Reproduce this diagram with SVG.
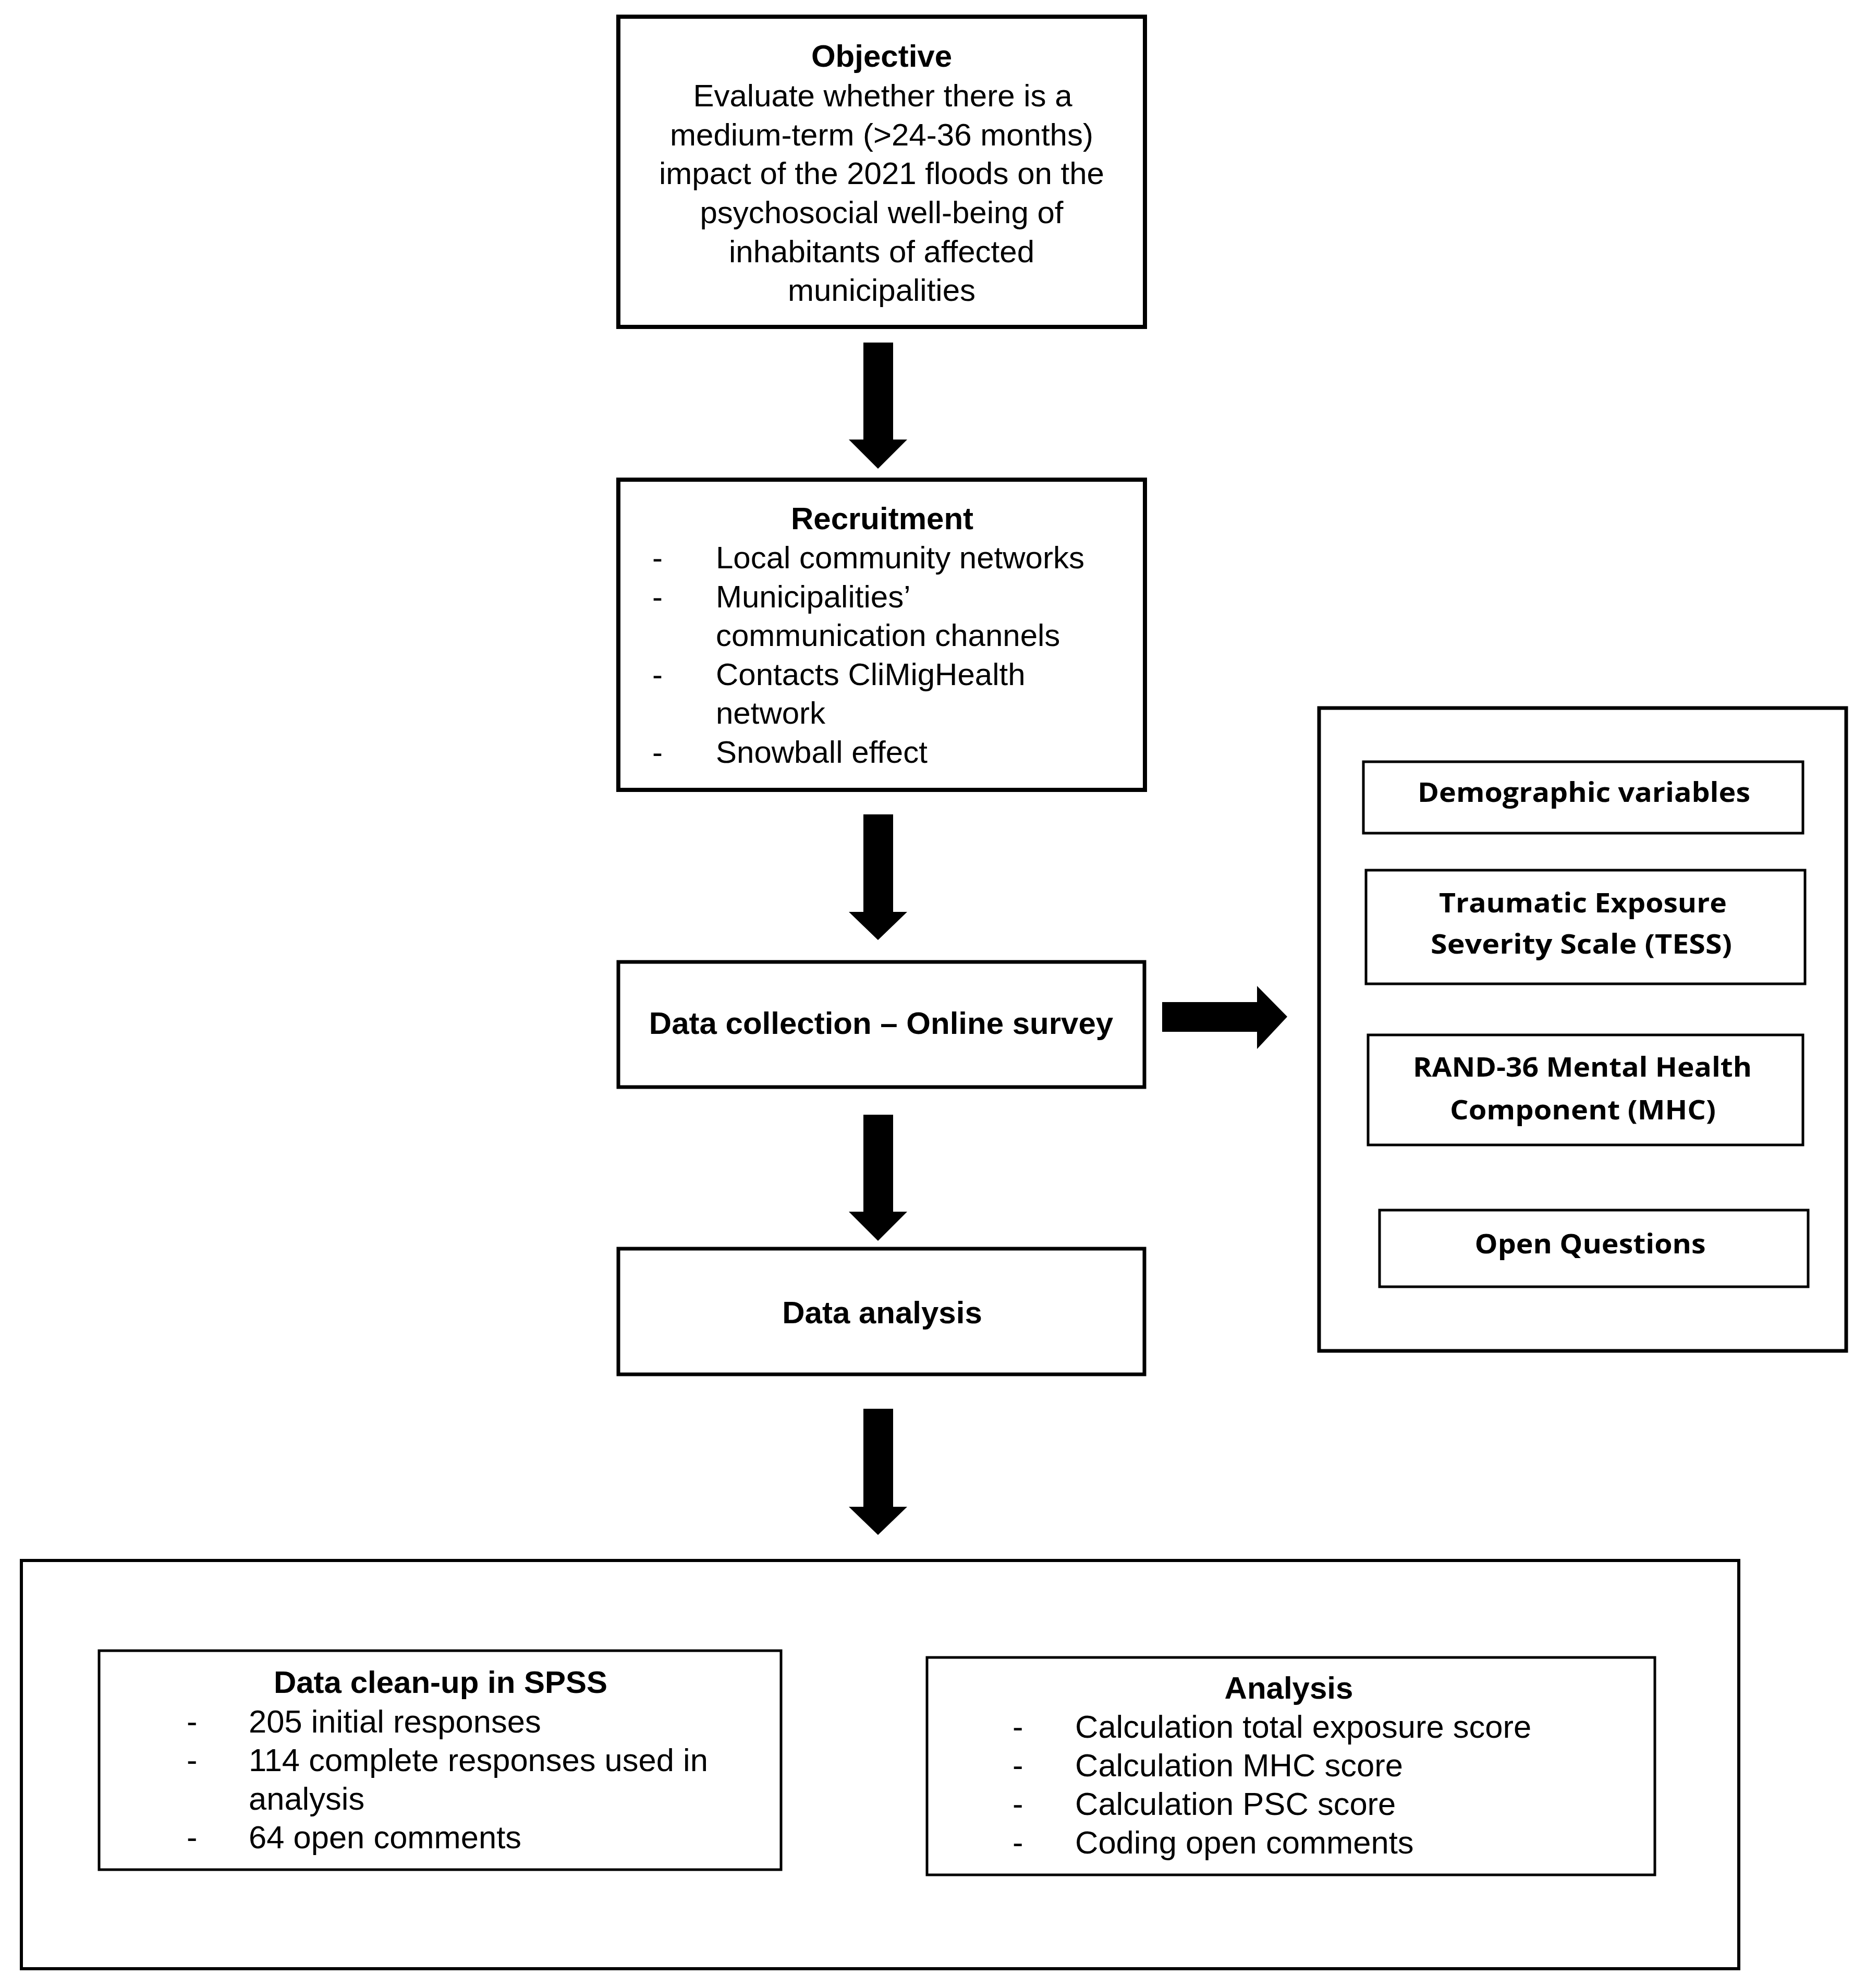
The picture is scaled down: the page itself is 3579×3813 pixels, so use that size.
<svg xmlns="http://www.w3.org/2000/svg" width="3579" height="3813" viewBox="0 0 3579 3813">
<style>
.box{fill:#fff;stroke:#000}
.b8{stroke-width:8}
.b7{stroke-width:7}
.b6{stroke-width:6}
.b5{stroke-width:5}
text{font-family:"Liberation Sans",Arial,sans-serif;font-size:60px;fill:#000}
.bold{font-weight:700}
.c{text-anchor:middle}
.s{font-size:61.5px}
.r{font-family:"Open Sans","Liberation Sans",sans-serif;font-weight:700;font-size:52px;text-anchor:middle}
.arrow{fill:#000}
</style>
<rect width="3579" height="3813" fill="#fff"/>

<g id="objective">
<rect class="box b8" x="1186" y="32" width="1010" height="595"/>
<text class="bold c" x="1691" y="128">Objective</text>
<text class="c" x="1693" y="204">Evaluate whether there is a</text>
<text class="c" x="1691" y="279">medium-term (&gt;24-36 months)</text>
<text class="c" x="1691" y="353">impact of the 2021 floods on the</text>
<text class="c" x="1691" y="428">psychosocial well-being of</text>
<text class="c" x="1691" y="503">inhabitants of affected</text>
<text class="c" x="1691" y="577">municipalities</text>
</g>

<g id="recruitment">
<rect class="box b8" x="1186" y="920" width="1010" height="595"/>
<text class="bold c" x="1692" y="1015">Recruitment</text>
<text x="1251" y="1090">-</text><text x="1373" y="1090">Local community networks</text>
<text x="1251" y="1165">-</text><text x="1373" y="1165">Municipalities’</text>
<text x="1373" y="1239">communication channels</text>
<text x="1251" y="1314">-</text><text x="1373" y="1314">Contacts CliMigHealth</text>
<text x="1373" y="1388">network</text>
<text x="1251" y="1463">-</text><text x="1373" y="1463">Snowball effect</text>
</g>

<g id="data-collection">
<rect class="box b7" x="1186" y="1845" width="1009" height="240"/>
<text class="bold c" x="1690" y="1983">Data collection – Online survey</text>
</g>

<g id="data-analysis">
<rect class="box b7" x="1186" y="2395" width="1009" height="241"/>
<text class="bold c" x="1692" y="2538">Data analysis</text>
</g>

<g id="survey-content">
<rect class="box b7" x="2530" y="1358" width="1011" height="1233"/>
</g>

<g id="demographic">
<rect class="box b5" x="2615" y="1461" width="843" height="137"/>
<text class="r" x="3038" y="1538" textLength="638" lengthAdjust="spacingAndGlyphs">Demographic variables</text>
</g>

<g id="tess">
<rect class="box b5" x="2620" y="1669" width="842" height="218"/>
<text class="r" x="3036" y="1750" textLength="552" lengthAdjust="spacingAndGlyphs">Traumatic Exposure</text>
<text class="r" x="3033" y="1829" textLength="578" lengthAdjust="spacingAndGlyphs">Severity Scale (TESS)</text>
</g>

<g id="rand36">
<rect class="box b5" x="2624" y="1985" width="834" height="211"/>
<text class="r" x="3035" y="2065" textLength="650" lengthAdjust="spacingAndGlyphs">RAND-36 Mental Health</text>
<text class="r" x="3036" y="2147" textLength="510" lengthAdjust="spacingAndGlyphs">Component (MHC)</text>
</g>

<g id="open-questions">
<rect class="box b5" x="2646" y="2321" width="822" height="147"/>
<text class="r" x="3050" y="2404" textLength="443" lengthAdjust="spacingAndGlyphs">Open Questions</text>
</g>

<g id="analysis-phase">
<rect class="box b6" x="41" y="2993" width="3294" height="783"/>
</g>

<g id="cleanup">
<rect class="box b5" x="190" y="3166" width="1308" height="420"/>
<text class="bold c" x="845" y="3247">Data clean-up in SPSS</text>
<text class="s" x="358" y="3323">-</text><text class="s" x="477" y="3323">205 initial responses</text>
<text class="s" x="358" y="3397">-</text><text class="s" x="477" y="3397">114 complete responses used in</text>
<text class="s" x="477" y="3471">analysis</text>
<text class="s" x="358" y="3545">-</text><text class="s" x="477" y="3545">64 open comments</text>
</g>

<g id="analysis">
<rect class="box b5" x="1778" y="3179" width="1396" height="417"/>
<text class="bold c" x="2472" y="3258">Analysis</text>
<text class="s" x="1942" y="3333">-</text><text class="s" x="2062" y="3333">Calculation total exposure score</text>
<text class="s" x="1942" y="3407">-</text><text class="s" x="2062" y="3407">Calculation MHC score</text>
<text class="s" x="1942" y="3481">-</text><text class="s" x="2062" y="3481">Calculation PSC score</text>
<text class="s" x="1942" y="3555">-</text><text class="s" x="2062" y="3555">Coding open comments</text>
</g>

<g id="connectors">
<polygon class="arrow" points="1656,657 1713,657 1713,843 1740,843 1684,899 1628,843 1656,843"/>
<polygon class="arrow" points="1656,1562 1713,1562 1713,1749 1740,1749 1684,1803 1628,1749 1656,1749"/>
<polygon class="arrow" points="1656,2138 1713,2138 1713,2324 1740,2324 1684,2380 1628,2324 1656,2324"/>
<polygon class="arrow" points="1656,2702 1713,2702 1713,2890 1740,2890 1684,2944 1628,2890 1656,2890"/>
<polygon class="arrow" points="2229,1922 2411,1922 2411,1891 2469,1950 2411,2012 2411,1979 2229,1979"/>
</g>
</svg>
